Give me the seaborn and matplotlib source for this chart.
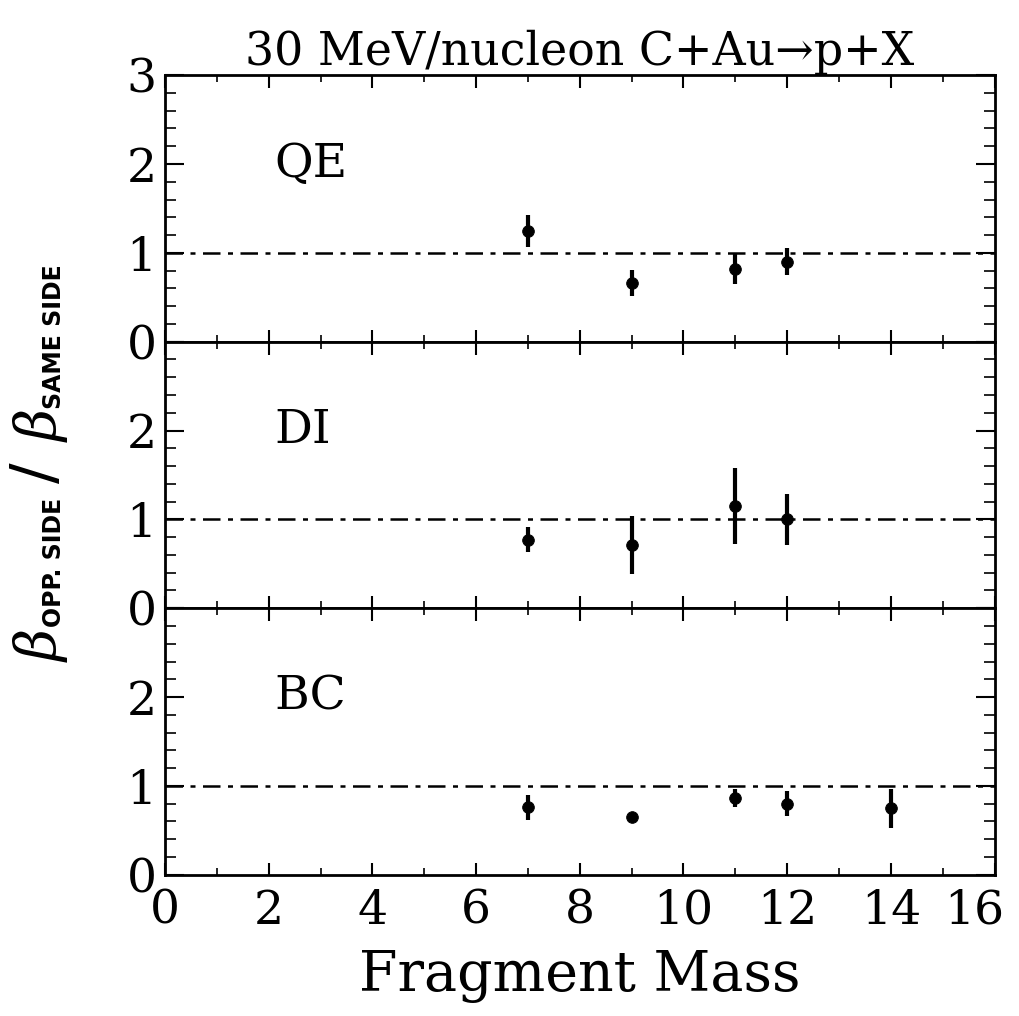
import seaborn as sns
import matplotlib.pyplot as plt
from matplotlib.ticker import MultipleLocator
from matplotlib.transforms import ScaledTranslation

# ratio beta(opp. side) / beta(same side) vs fragment mass, three reaction classes
panels = ['QE', 'DI', 'BC']

qe_mass = [7, 9, 11, 12]
qe_ratio = [1.25, 0.66, 0.82, 0.90]
qe_err = [0.18, 0.15, 0.17, 0.15]

di_mass = [7, 9, 11, 12]
di_ratio = [0.77, 0.71, 1.15, 1.00]
di_err = [0.14, 0.33, 0.43, 0.29]

bc_mass = [7, 9, 11, 12, 14]
bc_ratio = [0.76, 0.65, 0.86, 0.80, 0.75]
bc_err = [0.14, 0.02, 0.10, 0.14, 0.22]

xticks = [0, 2, 4, 6, 8, 10, 12, 14, 16]

sns.set_style('ticks', {'axes.edgecolor': 'black', 'xtick.color': 'black',
                        'ytick.color': 'black', 'text.color': 'black',
                        'axes.labelcolor': 'black'})
plt.rcParams['font.family'] = ['DejaVu Serif']
plt.rcParams['mathtext.fontset'] = 'dejavuserif'

fig, axes = plt.subplots(3, 1, figsize=(10.19, 10.16), dpi=100, sharex=True)
fig.subplots_adjust(left=0.162, right=0.976, top=0.926, bottom=0.139, hspace=0)

data = [(qe_mass, qe_ratio, qe_err), (di_mass, di_ratio, di_err), (bc_mass, bc_ratio, bc_err)]

for i, (ax, name, (m, r, e)) in enumerate(zip(axes, panels, data)):
    ax.axhline(1, color='black', lw=1.8, ls=(0, (7, 3, 2, 3)))
    ax.errorbar(m, r, yerr=e, fmt='none', ecolor='black', elinewidth=3, capsize=0)
    sns.scatterplot(x=m, y=r, ax=ax, color='black', s=70, marker='o', edgecolor='black')
    ax.text(2.1, 2.0, name, fontsize=34, va='center', ha='left')
    ax.set_xlim(0, 16)
    ax.set_ylim(0, 3)
    ax.set_yticks([0, 1, 2, 3])
    if i == 0:
        ax.set_yticklabels(['0', '1', '2', '3'])
    else:
        ax.set_yticklabels(['0', '1', '2', ''])
    ax.yaxis.set_minor_locator(MultipleLocator(0.2))
    ax.xaxis.set_minor_locator(MultipleLocator(1))
    ax.tick_params(axis='y', which='major', direction='in', length=14, width=1.5,
                   left=True, right=True, labelsize=34, pad=6)
    ax.tick_params(axis='y', which='minor', direction='in', length=8, width=1.2,
                   left=True, right=True)
    ax.tick_params(axis='x', which='major', direction='in', length=9, width=1.5,
                   top=True, bottom=True, labelsize=34, pad=10)
    ax.tick_params(axis='x', which='minor', direction='in', length=5, width=1.2,
                   top=True, bottom=True)
    for sp in ax.spines.values():
        sp.set_linewidth(2)
        sp.set_visible(True)

axes[-1].set_xticks(xticks)
axes[-1].set_xticklabels([str(t) for t in xticks])
last = axes[-1].get_xticklabels()[-1]
last.set_transform(last.get_transform() + ScaledTranslation(-0.2, 0, fig.dpi_scale_trans))
axes[-1].set_xlabel('Fragment Mass', fontsize=40, labelpad=10)
axes[0].set_title('30 MeV/nucleon C+Au→p+X', fontsize=33, pad=6)


def fx(px):
    return px / 1019


def fy(py):
    return 1 - py / 1016


# y label built from pieces: big beta, small sans subscripts
fig.text(fx(40), fy(645), r'$\beta$', rotation=90, fontsize=40, va='center', ha='center')
fig.text(fx(54), fy(562), 'OPP. SIDE', rotation=90, fontsize=17, fontweight='bold',
         family='DejaVu Sans', va='center', ha='center')
fig.text(fx(38), fy(473), '/', rotation=90, fontsize=44, family='DejaVu Sans',
         va='center', ha='center')
fig.text(fx(40), fy(425), r'$\beta$', rotation=90, fontsize=40, va='center', ha='center')
fig.text(fx(54), fy(337), 'SAME SIDE', rotation=90, fontsize=17, fontweight='bold',
         family='DejaVu Sans', va='center', ha='center')

fig.savefig('out.png', dpi=100)
